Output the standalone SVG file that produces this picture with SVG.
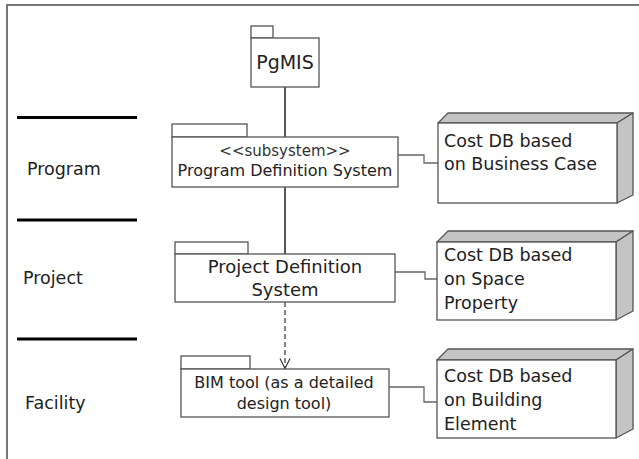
<svg xmlns="http://www.w3.org/2000/svg" width="639" height="459" viewBox="0 0 639 459">
<style>
text{font-family:"DejaVu Sans","Liberation Sans",sans-serif;fill:#222}
.box{fill:#fff;stroke:#555;stroke-width:1.3}
.shade{fill:#c4c4c4;stroke:#555;stroke-width:1.3;stroke-linejoin:round}
.lane{stroke:#000;stroke-width:3}
.conn{fill:none;stroke:#666;stroke-width:1.3}
.link{fill:none;stroke:#111;stroke-width:1.4}
.lbl{font-size:17.5px}
.db{font-size:17.5px}
</style>
<defs>
<marker id="open" markerWidth="12" markerHeight="12" refX="11" refY="6" orient="auto" markerUnits="userSpaceOnUse">
<path d="M1,1 L11,6 L1,11" fill="none" stroke="#333" stroke-width="1.2"/>
</marker>
</defs>
<rect x="7" y="5" width="640" height="460" fill="#fff" stroke="#777" stroke-width="2"/>
<g id="lanes">
<line class="lane" x1="17" y1="117.5" x2="137" y2="117.5"/>
<line class="lane" x1="17" y1="220" x2="137" y2="220"/>
<line class="lane" x1="17" y1="339" x2="137" y2="339"/>
<text class="lbl" x="27" y="175">Program</text>
<text class="lbl" x="23" y="284">Project</text>
<text class="lbl" x="25" y="409">Facility</text>
</g>
<g id="connectors">
<line class="link" x1="285" y1="87" x2="285" y2="137"/>
<line class="link" x1="285" y1="187" x2="285" y2="254"/>
<line x1="285" y1="302" x2="285" y2="368.5" stroke="#333" stroke-width="1.2" stroke-dasharray="5,3" marker-end="url(#open)"/>
<polyline class="conn" points="398,155 424,155 424,163 438,163"/>
<polyline class="conn" points="395,272 425,272 425,279 437,279"/>
<polyline class="conn" points="389,387 424,387 424,402 437,402"/>
</g>
<g id="pgmis">
<rect class="box" x="251" y="26" width="22" height="12"/>
<rect class="box" x="251" y="38" width="68" height="49"/>
<text x="285" y="69" text-anchor="middle" style="font-size:19px">PgMIS</text>
</g>
<g id="program-definition-system">
<rect class="box" x="172" y="124" width="75" height="13"/>
<rect class="box" x="172" y="137" width="226" height="50"/>
<text x="285" y="156" text-anchor="middle" style="font-size:15px;fill:#333">&lt;&lt;subsystem&gt;&gt;</text>
<text x="285" y="176" text-anchor="middle" style="font-size:16px">Program Definition System</text>
</g>
<g id="project-definition-system">
<rect class="box" x="175" y="242" width="73" height="12"/>
<rect class="box" x="175" y="254" width="220" height="48"/>
<text x="285" y="273" text-anchor="middle" style="font-size:18px">Project Definition</text>
<text x="285" y="296" text-anchor="middle" style="font-size:18px">System</text>
</g>
<g id="bim-tool">
<rect class="box" x="181" y="356" width="69" height="13"/>
<rect class="box" x="181" y="369" width="208" height="48"/>
<text x="284" y="388" text-anchor="middle" style="font-size:16px">BIM tool (as a detailed</text>
<text x="284" y="409" text-anchor="middle" style="font-size:16px">design tool)</text>
</g>
<g id="cost-db-business-case">
<polygon class="shade" points="438,123 448,113 633,113 617,123"/>
<polygon class="shade" points="617,123 633,113 633,195 617,203"/>
<rect class="box" x="438" y="123" width="179" height="80"/>
<text class="db" x="444" y="147">Cost DB based</text>
<text class="db" x="444" y="170">on Business Case</text>
</g>
<g id="cost-db-space-property">
<polygon class="shade" points="437,242 448,231 633,231 616,242"/>
<polygon class="shade" points="616,242 633,231 633,311 616,320"/>
<rect class="box" x="437" y="242" width="179" height="78"/>
<text class="db" x="444" y="261">Cost DB based</text>
<text class="db" x="444" y="285">on Space</text>
<text class="db" x="444" y="309">Property</text>
</g>
<g id="cost-db-building-element">
<polygon class="shade" points="437,360 448,349 633,349 616,360"/>
<polygon class="shade" points="616,360 633,349 633,429 616,438"/>
<rect class="box" x="437" y="360" width="179" height="78"/>
<text class="db" x="444" y="382">Cost DB based</text>
<text class="db" x="444" y="406">on Building</text>
<text class="db" x="444" y="430">Element</text>
</g>
</svg>
